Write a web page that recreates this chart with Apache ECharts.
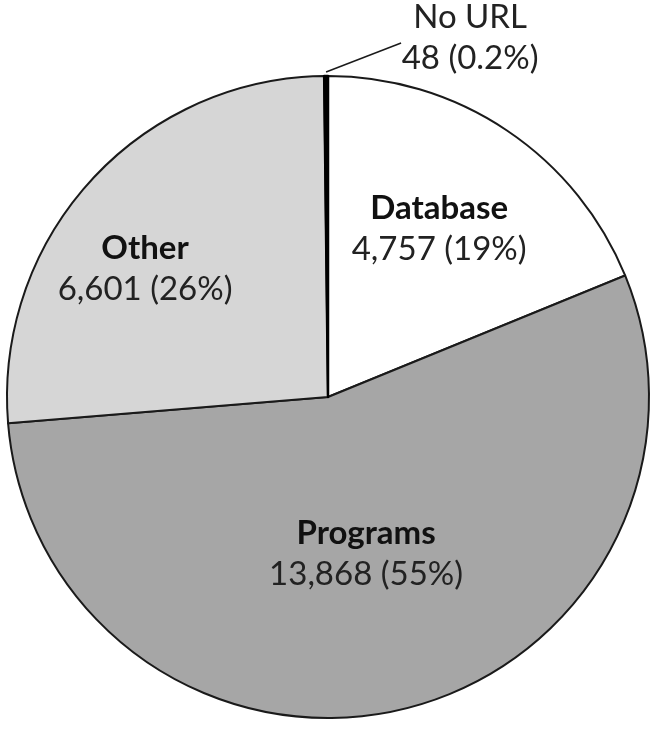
<!DOCTYPE html>
<html>
<head>
<meta charset="utf-8">
<script src="https://cdn.jsdelivr.net/npm/echarts@6/dist/echarts.min.js"></script>
<style>
html,body{margin:0;padding:0;background:#fff;}
#chart{width:661px;height:730px;}
</style>
</head>
<body>
<div id="chart"></div>
<script>
var categories = ['Database', 'Programs', 'Other', 'No URL'];
var values = [4757, 13868, 6601, 48];
var colors = ['#ffffff', '#a6a6a6', '#d6d6d6', '#000000'];
var boldName = [true, true, true, false];
// label nudges (dx, dy) relative to ECharts' inside position
var labelNudge = [[20, -32], [0, -2], [-62, -18], [0, 0]];

var total = values.reduce(function (a, b) { return a + b; }, 0);
function fmtPct(v) {
  var p = v / total * 100;
  return p < 1 ? p.toFixed(1) + '%' : Math.round(p) + '%';
}
function fmtNum(v) { return v.toLocaleString('en-US'); }

var data = categories.map(function (c, i) {
  var item = {
    name: c,
    value: values[i],
    itemStyle: { color: colors[i] }
  };
  if (i === 3) {
    item.itemStyle.borderColor = '#000';
    item.itemStyle.borderWidth = 2.5;
    item.label = { position: 'outside' };
    item.labelLine = { show: true, length: 10, length2: 0, lineStyle: { color: '#1a1a1a', width: 1.5 } };
  }
  return item;
});

var FONT = 'Lato, "Open Sans", sans-serif';
var chart = echarts.init(document.getElementById('chart'), null, { renderer: 'canvas' });
chart.setOption({
  backgroundColor: '#ffffff',
  animation: false,
  series: [{
    type: 'pie',
    center: [328, 397],
    radius: [0, 321],
    startAngle: 90,
    clockwise: true,
    minAngle: 0,
    avoidLabelOverlap: false,
    itemStyle: { borderColor: '#1a1a1a', borderWidth: 2 },
    label: {
      show: true,
      position: 'inside',
      fontFamily: FONT,
      color: '#1c1c1c',
      formatter: function (p) {
        var i = p.dataIndex;
        var nm = boldName[i] ? '{b|' + p.name + '}' : '{n|' + p.name + '}';
        return nm + '\n{n|' + fmtNum(p.value) + ' (' + fmtPct(p.value) + ')}';
      },
      rich: {
        b: { fontFamily: FONT, fontWeight: 'bold', fontSize: 33, lineHeight: 41, color: '#111' },
        n: { fontFamily: FONT, fontSize: 33, lineHeight: 41, color: '#222' }
      }
    },
    labelLine: { show: false },
    labelLayout: function (params) {
      var i = params.dataIndex;
      if (i === 3) {
        var pts = params.labelLinePoints;
        var p0 = pts ? pts[0] : [params.rect.x, params.rect.y];
        var p1 = [p0[0] + 75, p0[1] - 33];
        return {
          x: p1[0] + 69,
          y: p1[1] - 5,
          align: 'center',
          verticalAlign: 'middle',
          labelLinePoints: [[p0[0], p0[1] - 4], p1, p1]
        };
      }
      return { dx: labelNudge[i][0], dy: labelNudge[i][1] };
    },
    data: data
  }]
});
</script>
</body>
</html>
